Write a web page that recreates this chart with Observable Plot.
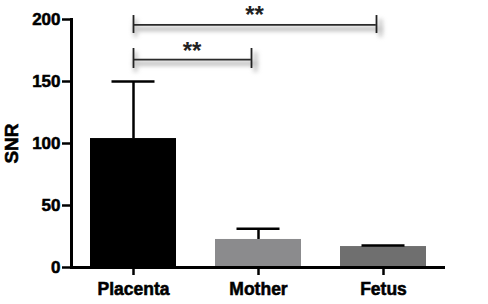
<!DOCTYPE html>
<html>
<head>
<meta charset="utf-8">
<script src="https://cdn.jsdelivr.net/npm/d3@7"></script>
<script src="https://cdn.jsdelivr.net/npm/@observablehq/plot@0.6"></script>
<style>
  html, body { margin: 0; padding: 0; background: #fff; }
  svg text { font-weight: bold; }
  svg g[aria-label$="tick label"] text, svg .ylabel text { stroke: #000; stroke-width: 0.55px; paint-order: stroke; }
  svg .shadow { filter: blur(2px); }
</style>
</head>
<body>
<div id="chart"></div>
<script>
// ---- data ----
const categories = ["Placenta", "Mother", "Fetus"];
const means = [104, 22.6, 16.9];
const errors = [46, 8.6, 0.8];
const barColors = ["#000000", "#8b8b8d", "#6f6f6f"];
const yTicks = [0, 50, 100, 150, 200];
const bracketFrom = ["Placenta", "Placenta"];
const bracketTo = ["Mother", "Fetus"];
const bracketLevel = [167.7, 195.6];
const bracketTickTop = [176.6, 203.2];
const bracketTickBottom = [160.5, 188.7];
const bracketStarLevel = [174, 203];
const bracketLabel = ["**", "**"];

const data = categories.map((c, i) => ({cat: c, mean: means[i], err: errors[i]}));
const brackets = bracketFrom.map((f, i) => ({
  from: f, to: bracketTo[i], y: bracketLevel[i],
  top: bracketTickTop[i], bottom: bracketTickBottom[i],
  starY: bracketStarLevel[i], label: bracketLabel[i]
}));

// ---- layout ----
const W = 488, H = 304, mL = 71, mR = 43, mT = 19, mB = 37;
const pInner = 0.31, pOuter = 0.15;
const step = (W - mL - mR) / (categories.length - pInner + 2 * pOuter);
const bw = step * (1 - pInner);

const chart = Plot.plot({
  width: W,
  height: H,
  marginLeft: mL,
  marginRight: mR,
  marginTop: mT,
  marginBottom: mB,
  style: {fontFamily: "'Liberation Sans', Arial, Helvetica, sans-serif", fontSize: "17px", fontWeight: "bold", color: "#000", background: "#fff", overflow: "visible"},
  x: {domain: categories, paddingInner: pInner, paddingOuter: pOuter, align: 0.5},
  y: {domain: [0, 200]},
  color: {domain: categories, range: barColors},
  marks: [
    // blurred shadows of the significance brackets
    ...brackets.flatMap(b => [
      Plot.ruleY([b], {x1: "from", x2: "to", y: "y", insetLeft: bw / 2, insetRight: bw / 2 + 1, dy: 4, stroke: "#b8b8b8", strokeWidth: 4, className: "shadow"}),
      Plot.ruleX([b], {x: "from", y1: "bottom", y2: "top", dx: 2, dy: 4, stroke: "#c8c8c8", strokeWidth: 4, className: "shadow"}),
      Plot.ruleX([b], {x: "to", y1: "bottom", y2: "top", dx: -3, dy: 4, stroke: "#c8c8c8", strokeWidth: 4, className: "shadow"})
    ]),
    Plot.barY(data, {x: "cat", y: "mean", fill: "cat"}),
    Plot.ruleX(data, {x: "cat", y1: "mean", y2: d => d.mean + d.err, stroke: "#000", strokeWidth: 2.5}),
    Plot.tickY(data, {x: "cat", y: d => d.mean + d.err, insetLeft: 21.5, insetRight: 21.5, stroke: "#000", strokeWidth: 2.5}),
    Plot.ruleY([0], {stroke: "#000", strokeWidth: 3}),
    Plot.frame({anchor: "left", stroke: "#000", strokeWidth: 3}),
    Plot.axisY({ticks: yTicks, tickSize: 9, tickPadding: 2, strokeWidth: 2.5, stroke: "#000", label: null, fontSize: 17, fontWeight: "bold", fill: "#000"}),
    Plot.axisX({tickSize: 8, tickPadding: 7, strokeWidth: 2.5, stroke: "#000", label: null, fontSize: 17.5, fontWeight: "bold", fill: "#000"}),
    Plot.text(["SNR"], {frameAnchor: "left", textAnchor: "middle", text: d => d, rotate: -90, dx: -60, fontSize: 19, fontWeight: "bold", fill: "#000", className: "ylabel"}),
    // significance brackets
    ...brackets.flatMap(b => {
      const span = categories.indexOf(b.to) - categories.indexOf(b.from);
      return [
        Plot.ruleY([b], {x1: "from", x2: "to", y: "y", insetLeft: bw / 2, insetRight: bw / 2 + 7, stroke: "#2a2a2a", strokeWidth: 1.8}),
        Plot.ruleX([b], {x: "from", y1: "bottom", y2: "top", stroke: "#222", strokeWidth: 1.8}),
        Plot.ruleX([b], {x: "to", y1: "bottom", y2: "top", dx: -7, stroke: "#222", strokeWidth: 1.8}),
        Plot.text([b], {x: "from", y: "starY", text: "label", dx: span * step / 2 - 4, fontSize: 24, fontWeight: "bold", fill: "#222"})
      ];
    })
  ]
});
document.getElementById("chart").appendChild(chart);
</script>
</body>
</html>
